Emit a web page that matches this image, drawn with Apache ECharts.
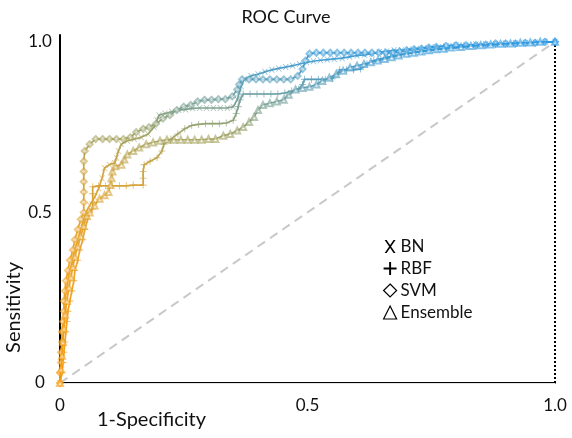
<!DOCTYPE html>
<html><head><meta charset="utf-8">
<script src="https://cdn.jsdelivr.net/npm/echarts@6/dist/echarts.min.js"></script>
<style>html,body{margin:0;padding:0;background:#fff}#c{width:572px;height:438px}</style>
</head><body><div id="c"></div>
<script>
const seriesNames = ['BN', 'RBF', 'SVM', 'Ensemble'];
const xTickLabels = {0: '0', 0.5: '0.5', 1: '1.0'};
const yTickLabels = {0: '0', 0.5: '0.5', 1: '1.0'};

const bnPoints = [[0,0],[0.003,0.04],[0.003,0.08],[0.006,0.12],[0.006,0.16],[0.01,0.2],[0.01,0.24],[0.014,0.28],[0.018,0.32],[0.024,0.35],[0.028,0.38],[0.034,0.41],[0.04,0.44],[0.046,0.47],[0.052,0.5],[0.06,0.52],[0.07,0.545],[0.078,0.57],[0.085,0.6],[0.09,0.63],[0.1,0.64],[0.11,0.645],[0.114,0.66],[0.118,0.68],[0.124,0.7],[0.136,0.71],[0.15,0.715],[0.164,0.72],[0.178,0.73],[0.19,0.75],[0.196,0.77],[0.2,0.785],[0.212,0.79],[0.226,0.795],[0.24,0.8],[0.254,0.802],[0.268,0.805],[0.282,0.806],[0.296,0.806],[0.31,0.806],[0.324,0.806],[0.338,0.806],[0.35,0.81],[0.358,0.83],[0.362,0.85],[0.366,0.87],[0.372,0.89],[0.386,0.9],[0.4,0.905],[0.414,0.912],[0.428,0.918],[0.442,0.922],[0.456,0.926],[0.47,0.93],[0.484,0.935],[0.498,0.94],[0.512,0.943],[0.526,0.946],[0.54,0.948],[0.554,0.95],[0.57,0.952],[0.585,0.956],[0.6,0.96],[0.615,0.962],[0.63,0.965],[0.645,0.97],[0.66,0.972],[0.675,0.975],[0.69,0.975],[0.705,0.978],[0.72,0.98],[0.735,0.982],[0.75,0.985],[0.765,0.985],[0.78,0.988],[0.8,0.99],[0.82,0.99],[0.84,0.992],[0.86,0.993],[0.88,0.994],[0.9,0.995],[0.92,0.996],[0.94,0.997],[0.96,0.998],[0.98,1],[1,1]];

const rbfPoints = [[0,0],[0.004,0.03],[0.006,0.06],[0.008,0.09],[0.01,0.12],[0.012,0.15],[0.014,0.18],[0.016,0.21],[0.02,0.24],[0.024,0.27],[0.028,0.3],[0.03,0.33],[0.036,0.36],[0.04,0.39],[0.046,0.42],[0.05,0.45],[0.056,0.48],[0.06,0.5],[0.066,0.51],[0.066,0.53],[0.066,0.555],[0.066,0.575],[0.078,0.578],[0.092,0.578],[0.106,0.578],[0.12,0.578],[0.134,0.578],[0.148,0.58],[0.168,0.58],[0.168,0.6],[0.168,0.62],[0.17,0.64],[0.182,0.65],[0.196,0.66],[0.206,0.68],[0.21,0.7],[0.224,0.715],[0.238,0.73],[0.252,0.745],[0.266,0.755],[0.28,0.758],[0.294,0.76],[0.308,0.76],[0.322,0.76],[0.336,0.762],[0.35,0.77],[0.356,0.79],[0.36,0.81],[0.364,0.83],[0.37,0.847],[0.384,0.847],[0.398,0.847],[0.412,0.847],[0.426,0.847],[0.44,0.847],[0.454,0.85],[0.468,0.856],[0.482,0.862],[0.49,0.875],[0.494,0.89],[0.508,0.89],[0.522,0.89],[0.536,0.89],[0.55,0.892],[0.56,0.905],[0.565,0.918],[0.579,0.918],[0.593,0.918],[0.607,0.92],[0.62,0.935],[0.634,0.945],[0.648,0.95],[0.662,0.955],[0.676,0.96],[0.69,0.963],[0.704,0.966],[0.718,0.97],[0.732,0.972],[0.746,0.975],[0.76,0.978],[0.78,0.98],[0.8,0.983],[0.82,0.986],[0.84,0.988],[0.86,0.99],[0.88,0.992],[0.9,0.994],[0.92,0.995],[0.94,0.997],[0.96,0.998],[0.98,1],[1,1]];

const svmPoints = [[0,0],[0,0.03],[0.002,0.06],[0.002,0.09],[0.004,0.12],[0.004,0.15],[0.006,0.18],[0.008,0.21],[0.008,0.24],[0.01,0.27],[0.012,0.3],[0.016,0.33],[0.02,0.36],[0.026,0.39],[0.03,0.42],[0.036,0.45],[0.042,0.48],[0.048,0.5],[0.048,0.53],[0.048,0.56],[0.048,0.59],[0.048,0.62],[0.048,0.65],[0.05,0.68],[0.06,0.7],[0.072,0.715],[0.086,0.715],[0.1,0.715],[0.114,0.715],[0.128,0.715],[0.142,0.72],[0.154,0.735],[0.168,0.745],[0.18,0.75],[0.194,0.76],[0.208,0.775],[0.222,0.785],[0.236,0.8],[0.25,0.81],[0.264,0.815],[0.278,0.825],[0.292,0.83],[0.306,0.83],[0.32,0.832],[0.334,0.832],[0.348,0.84],[0.358,0.86],[0.362,0.875],[0.368,0.89],[0.382,0.89],[0.396,0.89],[0.41,0.89],[0.424,0.89],[0.438,0.89],[0.452,0.89],[0.466,0.89],[0.48,0.9],[0.49,0.92],[0.496,0.945],[0.504,0.965],[0.518,0.968],[0.532,0.968],[0.546,0.968],[0.56,0.968],[0.574,0.968],[0.588,0.968],[0.602,0.968],[0.616,0.968],[0.63,0.968],[0.644,0.968],[0.658,0.968],[0.672,0.968],[0.686,0.972],[0.7,0.975],[0.715,0.978],[0.73,0.98],[0.745,0.983],[0.76,0.985],[0.78,0.988],[0.8,0.99],[0.82,0.99],[0.84,0.99],[0.86,0.992],[0.88,0.995],[0.9,0.995],[0.92,0.995],[0.94,0.997],[0.96,0.997],[0.98,1],[1,1]];

const ensemblePoints = [[0,0],[0.002,0.04],[0.004,0.08],[0.006,0.12],[0.008,0.16],[0.01,0.2],[0.014,0.24],[0.018,0.28],[0.022,0.31],[0.026,0.34],[0.03,0.37],[0.036,0.4],[0.042,0.43],[0.048,0.46],[0.054,0.49],[0.06,0.5],[0.07,0.52],[0.08,0.54],[0.09,0.55],[0.098,0.56],[0.102,0.58],[0.104,0.6],[0.106,0.62],[0.112,0.635],[0.124,0.64],[0.13,0.655],[0.136,0.67],[0.148,0.68],[0.16,0.69],[0.174,0.7],[0.188,0.705],[0.202,0.71],[0.216,0.713],[0.23,0.713],[0.244,0.713],[0.258,0.713],[0.272,0.713],[0.286,0.713],[0.3,0.715],[0.314,0.715],[0.33,0.725],[0.344,0.73],[0.358,0.74],[0.37,0.75],[0.382,0.765],[0.392,0.78],[0.4,0.8],[0.41,0.815],[0.424,0.82],[0.438,0.825],[0.452,0.83],[0.462,0.845],[0.476,0.86],[0.49,0.865],[0.504,0.868],[0.518,0.875],[0.53,0.885],[0.544,0.895],[0.558,0.905],[0.572,0.915],[0.586,0.925],[0.6,0.93],[0.614,0.935],[0.628,0.94],[0.642,0.945],[0.656,0.95],[0.67,0.955],[0.684,0.96],[0.7,0.965],[0.715,0.968],[0.73,0.972],[0.745,0.975],[0.76,0.978],[0.775,0.98],[0.79,0.983],[0.81,0.985],[0.83,0.988],[0.85,0.99],[0.87,0.992],[0.89,0.994],[0.91,0.995],[0.93,0.997],[0.95,0.998],[0.97,1],[1,1]];

const diagonalPoints = [[0,0],[1,1]];

const FONT = 'Lato';
const xPath = 'path://M0,0 L1.8,0 L10,12 L8.2,12 Z M8.2,0 L10,0 L1.8,12 L0,12 Z';
const plusPath = 'path://M0,5.1 L12,5.1 L12,6.9 L0,6.9 Z M5.1,0 L6.9,0 L6.9,12 L5.1,12 Z';

const seriesData = [bnPoints, rbfPoints, svmPoints, ensemblePoints];
const seriesSymbols = [xPath, plusPath, 'emptyDiamond', 'emptyTriangle'];
const seriesSymbolSizes = [6, 7, 6, 6];

const chart = echarts.init(document.getElementById('c'), null, {renderer: 'canvas'});

const curveSeries = seriesNames.map((n, i) => ({
  name: n,
  type: 'line',
  data: seriesData[i],
  symbol: seriesSymbols[i],
  symbolSize: seriesSymbolSizes[i],
  showSymbol: true,
  lineStyle: {width: 1.7, opacity: 0.95},
  itemStyle: {opacity: 0.6, borderWidth: 1.2},
  z: 3 + i
}));

chart.setOption({
  animation: false,
  backgroundColor: '#fff',
  title: {
    text: 'ROC Curve', left: 'center', top: 3,
    textStyle: {fontFamily: FONT, fontSize: 18, fontWeight: 'normal', color: '#111'}
  },
  grid: {left: 60, right: 17, top: 35, bottom: 55, containLabel: false},
  xAxis: [{
    type: 'value', min: 0, max: 1, interval: 0.5,
    axisLine: {show: true, onZero: false, lineStyle: {color: '#000', width: 2}},
    axisTick: {show: false},
    splitLine: {show: false},
    axisLabel: {
      margin: 14, fontFamily: FONT, fontSize: 17, color: '#111',
      formatter: v => xTickLabels[v] !== undefined ? xTickLabels[v] : ''
    }
  }, {
    type: 'value', position: 'top', min: 0, max: 1,
    axisLine: {show: true, lineStyle: {color: '#e4e4e4', width: 1}},
    axisTick: {show: false}, axisLabel: {show: false}, splitLine: {show: false}
  }],
  yAxis: {
    type: 'value', min: 0, max: 1.02, interval: 0.5,
    axisLine: {show: true, onZero: false, lineStyle: {color: '#000', width: 2}},
    axisTick: {show: false},
    splitLine: {show: false},
    axisLabel: {
      margin: 20, align: 'center', fontFamily: FONT, fontSize: 17, color: '#111',
      formatter: v => yTickLabels[v] !== undefined ? yTickLabels[v] : ''
    }
  },
  visualMap: {
    show: false, type: 'continuous', dimension: 1, min: 0, max: 1,
    seriesIndex: [1, 2, 3, 4],
    inRange: {color: ['#F59B0C', '#F49E14', '#F0A01C', '#EAA226', '#E0A22E', '#CDA23C', '#94A06A', '#5A9CB4', '#2B98E2']}
  },
  legend: {
    orient: 'vertical', left: 378, top: 233,
    itemWidth: 13, itemHeight: 13, itemGap: 5,
    textStyle: {fontFamily: FONT, fontSize: 17, color: '#111', padding: [0, 0, 0, -1]},
    data: [
      {name: 'BN', icon: xPath, itemStyle: {color: '#000', borderWidth: 0, opacity: 1}},
      {name: 'RBF', icon: plusPath, itemStyle: {color: '#000', borderWidth: 0, opacity: 1}},
      {name: 'SVM', icon: 'diamond', itemStyle: {color: '#fff', borderColor: '#000', borderWidth: 1.2, opacity: 1}},
      {name: 'Ensemble', icon: 'triangle', itemStyle: {color: '#fff', borderColor: '#000', borderWidth: 1.2, opacity: 1}}
    ]
  },
  graphic: [
    {type: 'text', left: 97, top: 410, style: {text: '1-Specificity', fontFamily: FONT, fontSize: 20, fill: '#111'}},
    {type: 'text', left: 4, top: 262, rotation: Math.PI / 2, style: {text: 'Sensitivity', fontFamily: FONT, fontSize: 20, fill: '#111'}}
  ],
  series: [{
    name: 'diagonal', type: 'line', data: diagonalPoints, symbol: 'none', silent: true,
    lineStyle: {color: '#c8c8c8', width: 2, type: [9, 6]}, z: 1,
    markLine: {
      silent: true, symbol: 'none', label: {show: false},
      lineStyle: {color: '#000', width: 2, type: [2, 2]},
      data: [[{coord: [1, 0]}, {coord: [1, 1]}]]
    }
  }].concat(curveSeries)
});
</script>
</body></html>
